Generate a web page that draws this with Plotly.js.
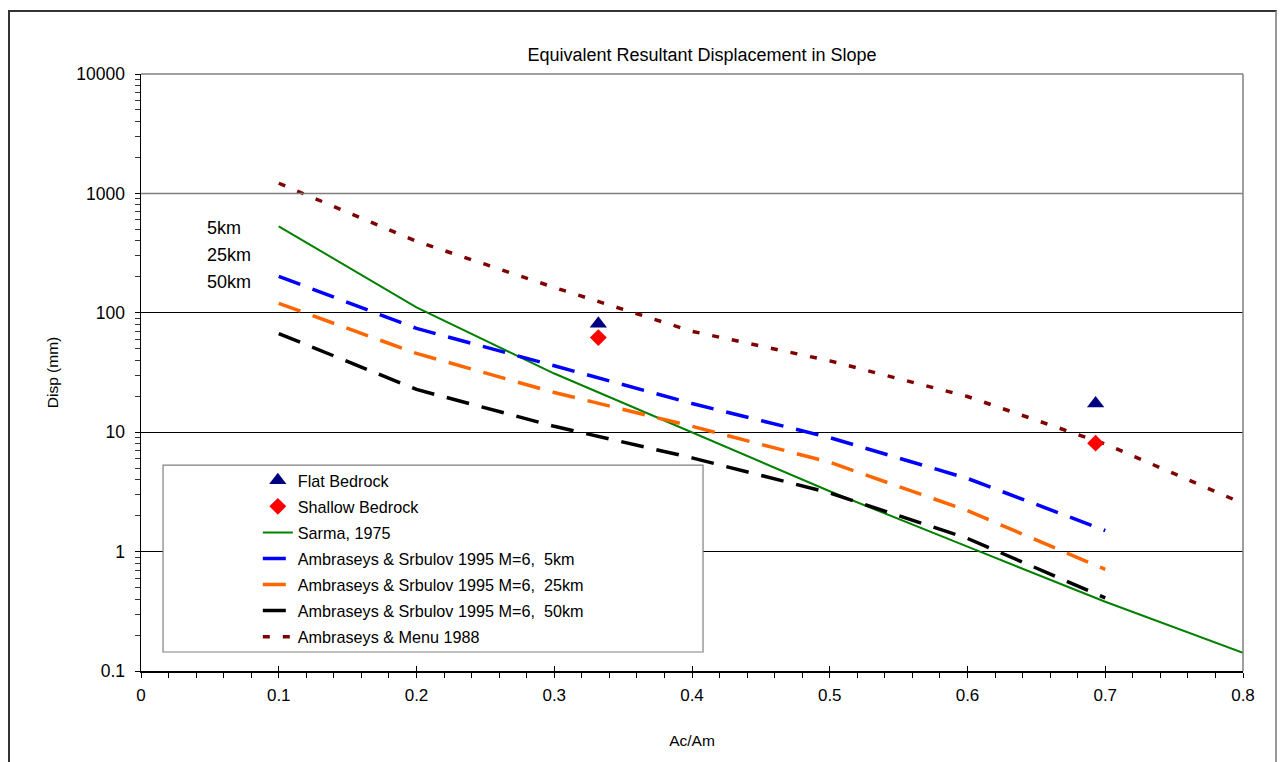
<!DOCTYPE html>
<html>
<head>
<meta charset="utf-8">
<script src="https://cdn.plot.ly/plotly-3.0.1.min.js"></script>
<style>
  html, body { margin: 0; padding: 0; background: #fff; }
  #wrap { position: relative; width: 1281px; height: 762px; overflow: hidden; }
  #chart { position: absolute; left: 0; top: 0; width: 1281px; height: 762px; }
  #frame { position: absolute; left: 8px; top: 10px; width: 1269px; height: 800px;
           border-left: 2px solid #333; border-top: 2px solid #333; border-right: 2px solid #999;
           pointer-events: none; box-sizing: border-box; }
</style>
</head>
<body>
<div id="wrap">
  <div id="chart"></div>
  <div id="frame"></div>
</div>
<script>
// ---- data ----
const acam = [0.1, 0.2, 0.3, 0.4, 0.5, 0.6, 0.7, 0.8];
const acamAS = [0.1, 0.2, 0.3, 0.4, 0.5, 0.6, 0.7];
const sarma1975 = [530, 111, 31, 10, 3.2, 1.1, 0.38, 0.142];
const asM6_5km  = [202, 74, 36, 17.4, 9.0, 4.1, 1.5];
const asM6_25km = [120, 45.7, 21.5, 11.2, 5.6, 2.2, 0.71];
const asM6_50km = [67, 22.8, 11.2, 6.1, 3.1, 1.29, 0.41];
const menu1988  = [1216, 397, 163, 70, 39.6, 19.9, 7.97, 2.53];
const siteX = [0.332, 0.693];
const flatBedrock = [81, 17.4];
const shallowBedrock = [62, 8.1];
const yTickVals = [0.1, 1, 10, 100, 1000, 10000];
const yTickText = ['0.1', '1', '10', '100', '1000', '10000'];
const xTickVals = [0, 0.1, 0.2, 0.3, 0.4, 0.5, 0.6, 0.7, 0.8];
const xTickText = ['0', '0.1', '0.2', '0.3', '0.4', '0.5', '0.6', '0.7', '0.8'];
const distLabels = ['5km', '25km', '50km'];

// minor tick positions for the log axis (2..9 of each decade)
const yMinor = [];
for (let e = -1; e < 4; e++) for (let m = 2; m <= 9; m++) yMinor.push(m * Math.pow(10, e));

const FONT = 'Liberation Sans, Arial, sans-serif';
const DASH = '23px,13px';

const traces = [
  { name: 'Sarma, 1975', x: acam, y: sarma1975, mode: 'lines',
    line: { color: '#008000', width: 2 }, legendrank: 3, legendgroup: 'c' },
  { name: 'Ambraseys & Srbulov 1995 M=6,  5km', x: acamAS, y: asM6_5km, mode: 'lines',
    line: { color: '#0000FF', width: 3.5, dash: DASH }, legendrank: 4, legendgroup: 'd' },
  { name: 'Ambraseys & Srbulov 1995 M=6,  25km', x: acamAS, y: asM6_25km, mode: 'lines',
    line: { color: '#FF6600', width: 3.5, dash: DASH }, legendrank: 5, legendgroup: 'e' },
  { name: 'Ambraseys & Srbulov 1995 M=6,  50km', x: acamAS, y: asM6_50km, mode: 'lines',
    line: { color: '#000000', width: 3.5, dash: DASH }, legendrank: 6, legendgroup: 'f' },
  { name: 'Ambraseys & Menu 1988', x: acam, y: menu1988, mode: 'lines',
    line: { color: '#800000', width: 3.5, dash: '7px,13px' }, legendrank: 7, legendgroup: 'g' },
  { name: 'Flat Bedrock', x: siteX, y: flatBedrock, mode: 'markers',
    marker: { symbol: 'triangle-up', color: '#000080', size: 15 }, legendrank: 1, legendgroup: 'a' },
  { name: 'Shallow Bedrock', x: siteX, y: shallowBedrock, mode: 'markers',
    marker: { symbol: 'diamond', color: '#FF0000', size: 13 }, legendrank: 2, legendgroup: 'b' },
  // carrier for the inside tick marks of the overlay axes
  { x: [null], y: [null], xaxis: 'x2', yaxis: 'y2', showlegend: false, hoverinfo: 'skip', mode: 'lines' }
];

const annotations = distLabels.map((t, i) => ({
  text: t, xref: 'paper', yref: 'paper', x: 0.0585, y: [0.742, 0.697, 0.652][i],
  xanchor: 'left', yanchor: 'middle', showarrow: false, font: { family: FONT, size: 18, color: '#000' }
}));

const layout = {
  width: 1281, height: 762,
  margin: { l: 141, r: 38, t: 74, b: 91 },
  paper_bgcolor: 'rgba(0,0,0,0)', plot_bgcolor: 'rgba(0,0,0,0)',
  font: { family: FONT, color: '#000' },
  showlegend: true,
  title: { text: 'Equivalent Resultant Displacement in Slope', font: { family: FONT, size: 18, color: '#000' },
           x: 0.548, xref: 'container', xanchor: 'center', y: 1 - 55 / 762, yref: 'container', yanchor: 'middle' },
  xaxis: {
    range: [0, 0.8], tickmode: 'array', tickvals: xTickVals, ticktext: xTickText,
    ticks: 'outside', ticklen: 5, tickcolor: '#000', tickwidth: 1,
    minor: { tickmode: 'linear', dtick: 0.02, tick0: 0, ticks: 'outside', ticklen: 5, tickcolor: '#000', showgrid: false },
    showline: true, linecolor: '#000', linewidth: 1.5, showgrid: false, zeroline: false,
    tickfont: { family: FONT, size: 17, color: '#000' }, ticklabelstandoff: 3,
    title: { text: 'Ac/Am', font: { family: FONT, size: 15.5, color: '#000' }, standoff: 31 }
  },
  yaxis: {
    type: 'log', range: [-1, 4], tickmode: 'array', tickvals: yTickVals, ticktext: yTickText,
    ticks: 'outside', ticklen: 5, tickcolor: '#000', tickwidth: 1,
    minor: { tickmode: 'array', tickvals: yMinor, ticks: 'outside', ticklen: 5, tickcolor: '#333', showgrid: false },
    showline: true, linecolor: '#000', linewidth: 1.5, showgrid: true, gridcolor: '#000', gridwidth: 1, zeroline: false,
    tickfont: { family: FONT, size: 17.5, color: '#000' }, ticklabelstandoff: 6,
    title: { text: 'Disp (mm)', font: { family: FONT, size: 15.5, color: '#000' }, standoff: 14 }
  },
  xaxis2: { overlaying: 'x', anchor: 'y2', range: [0, 0.8], tickmode: 'array', tickvals: xTickVals,
            ticks: 'inside', ticklen: 5, tickcolor: '#000', showticklabels: false, showgrid: false,
            zeroline: false, showline: false },
  yaxis2: { overlaying: 'y', anchor: 'x2', side: 'left', type: 'log', range: [-1, 4], tickmode: 'array',
            tickvals: yTickVals, ticks: 'inside', ticklen: 5, tickcolor: '#000', showticklabels: false,
            showgrid: false, zeroline: false, showline: false },
  legend: {
    x: 0.106, y: 0.348, xanchor: 'left', yanchor: 'top',
    bgcolor: 'rgba(0,0,0,0)', borderwidth: 0,
    font: { family: FONT, size: 16.2, color: '#000' },
    tracegroupgap: 2, traceorder: 'grouped'
  },
  shapes: [
    // gray plot-area frame (top, right) and the gray 1000 gridline
    { type: 'line', xref: 'paper', yref: 'paper', x0: 0, x1: 1, y0: 1, y1: 1, line: { color: '#808080', width: 1.5 }, layer: 'above' },
    { type: 'line', xref: 'paper', yref: 'paper', x0: 1, x1: 1, y0: 0, y1: 1, line: { color: '#808080', width: 1.5 }, layer: 'above' },
    { type: 'line', xref: 'paper', yref: 'y domain', x0: 0, x1: 1, y0: 0.8, y1: 0.8, line: { color: '#808080', width: 1.5 }, layer: 'above' },
    // legend box
    { type: 'rect', xref: 'paper', yref: 'paper', x0: 0.02, x1: 0.51, y0: 0.0318, y1: 0.345,
      line: { color: '#808080', width: 1.2 }, fillcolor: '#ffffff', layer: 'above' }
  ],
  annotations: annotations
};

Plotly.newPlot('chart', traces, layout, { displayModeBar: false, staticPlot: true });
</script>
</body>
</html>
